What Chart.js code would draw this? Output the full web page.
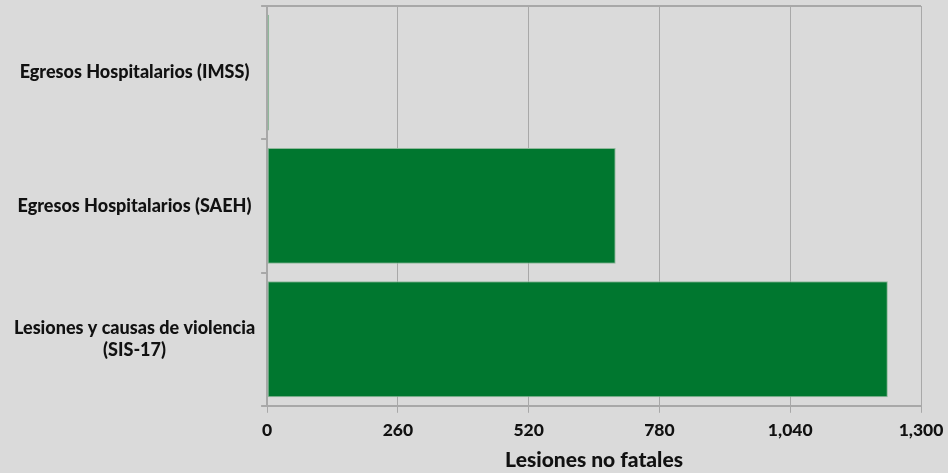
<!DOCTYPE html>
<html lang="es">
<head>
  <meta charset="utf-8">
  <title>Lesiones no fatales</title>
  <style>
    html, body { margin: 0; padding: 0; background: #dadada; }
    #wrap { width: 948px; height: 473px; }
  </style>
</head>
<body>
  <div id="wrap"><canvas id="myChart" width="948" height="473"></canvas></div>
  <script src="https://cdn.jsdelivr.net/npm/chart.js"></script>
  <script>
    const categories = [
      'Egresos Hospitalarios (IMSS)',
      'Egresos Hospitalarios (SAEH)',
      ['Lesiones y causas de violencia', '(SIS-17)']
    ];
    const lesiones = [4, 693, 1234];
    const xTicks = [0, 260, 520, 780, 1040, 1300];

    // linea superior del area del grafico
    const topLine = {
      id: 'topLine',
      afterDatasetsDraw(chart) {
        const { ctx, chartArea } = chart;
        ctx.save();
        ctx.strokeStyle = '#a8a8a8';
        ctx.lineWidth = 2;
        ctx.beginPath();
        ctx.moveTo(chartArea.left - 5, chartArea.top);
        ctx.lineTo(chartArea.right, chartArea.top);
        ctx.stroke();
        ctx.restore();
      }
    };

    const ctx = document.getElementById('myChart').getContext('2d');
    new Chart(ctx, {
      type: 'bar',
      data: {
        labels: categories,
        datasets: [{
          label: 'Lesiones no fatales',
          data: lesiones,
          backgroundColor: '#00772f',
          borderColor: '#8fb89a',
          borderWidth: 1,
          borderSkipped: false,
          barPercentage: 0.87,
          categoryPercentage: 1
        }]
      },
      options: {
        indexAxis: 'y',
        responsive: false,
        animation: false,
        layout: { padding: { top: 6, right: 0, left: 8, bottom: 0 } },
        plugins: {
          legend: { display: false },
          tooltip: { enabled: false }
        },
        scales: {
          x: {
            min: 0,
            max: 1300,
            afterBuildTicks: axis => { axis.ticks = xTicks.map(v => ({ value: v })); },
            afterFit: axis => { axis.paddingRight = 27; axis.paddingLeft = 0; },
            grid: { color: '#a8a8a8', lineWidth: 1, tickLength: 7, tickColor: '#a8a8a8' },
            border: { color: '#a8a8a8', width: 2 },
            ticks: {
              color: '#111',
              font: { family: 'Lato', weight: 900, size: 17.5 },
              padding: 7,
              maxRotation: 0,
              callback: v => v.toLocaleString('en-US')
            },
            title: {
              display: true,
              text: 'Lesiones no fatales',
              color: '#111',
              font: { family: 'Lato', weight: 900, size: 21 },
              padding: { top: 0, bottom: 0 }
            }
          },
          y: {
            afterFit: axis => { axis.paddingTop = 0; axis.paddingBottom = 0; },
            grid: { drawOnChartArea: false, offset: true, tickLength: 6, color: '#a8a8a8', lineWidth: 2 },
            border: { color: '#a8a8a8', width: 2 },
            ticks: {
              color: '#111',
              font: { family: 'Lato', weight: 900, size: 18 },
              padding: 6,
              crossAlign: 'center'
            }
          }
        }
      },
      plugins: [topLine]
    });
  </script>
</body>
</html>
